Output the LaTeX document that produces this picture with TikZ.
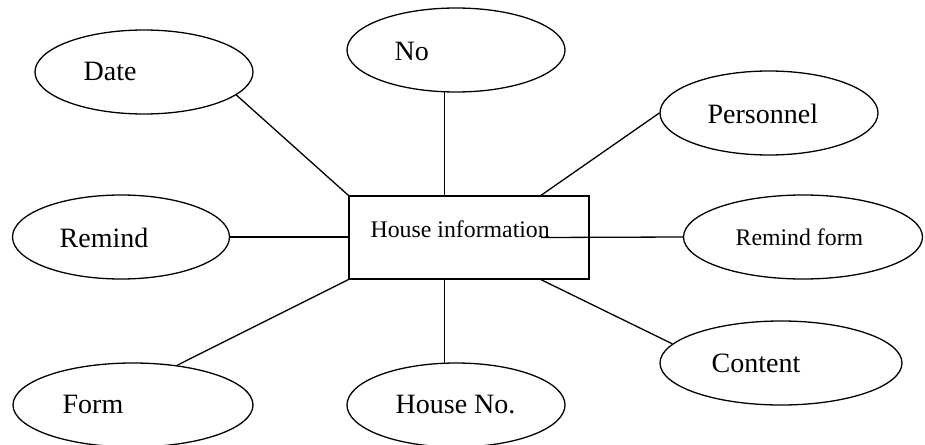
\documentclass[tikz,border=0pt]{standalone}
\usepackage{fontspec}
\setmainfont{Liberation Serif}
\usetikzlibrary{shapes.geometric}

\begin{document}
\begin{tikzpicture}[x=1pt,y=-1pt,
    line width=1.3pt,
    attr/.style={draw, ellipse, inner sep=0pt, minimum height=84},
    entity/.style={draw, rectangle, inner sep=0pt, minimum width=240, minimum height=83},
    bigtext/.style={anchor=base west, inner sep=0pt, font=\fontsize{28}{32}\selectfont},
    smalltext/.style={anchor=base west, inner sep=0pt, font=\fontsize{23.8}{28}\selectfont},
    link/.style={draw, line width=1.3pt}]
  \useasboundingbox (0,0) rectangle (925,444);

  % central entity
  \node[entity] (house) at (469,237.5) {};
  \node[smalltext] (housetxt) at (370,237) {House information};

  % attributes
  \node[attr, minimum width=218] (date)      at (144,72)  {};
  \node[attr, minimum width=218] (no)        at (456,50)  {};
  \node[attr, minimum width=218] (personnel) at (769,113) {};
  \node[attr, minimum width=217] (remind)    at (121,237) {};
  \node[attr, minimum width=239] (rform)     at (803,237) {};
  \node[attr, minimum width=240] (form)      at (133,405) {};
  \node[attr, minimum width=218] (houseno)   at (456,405) {};
  \node[attr, minimum width=242] (content)   at (781,363) {};

  % attribute labels
  \node[bigtext] (datetxt)      at (83,80)   {Date};
  \node[bigtext] (notxt)        at (394,60)  {No};
  \node[bigtext] (personneltxt) at (707,123) {Personnel};
  \node[bigtext] (remindtxt)    at (59,247)  {Remind};
  \node[smalltext] (rformtxt)   at (735,245) {Remind form};
  \node[bigtext] (formtxt)      at (62,413)  {Form};
  \node[bigtext] (housenotxt)   at (395,413) {House No.};
  \node[bigtext] (contenttxt)   at (711,372) {Content};

  % connectors
  \draw[link] (date.-14) -- (house.north west);
  \draw[link] (no.-105) -- (no.-105 |- house.north);
  \draw[link] (personnel.west) -- ([xshift=72pt]house.north);
  \draw[link] (remind.east) -- (remind.east -| house.west);
  \draw[link] ([xshift=72pt]house.center) -- (rform.west);
  \draw[link] (form.42) -- (house.south west);
  \draw[link] (house.south -| houseno.105) -- (houseno.105);
  \draw[link] ([xshift=72pt]house.south) -- (content.170);
\end{tikzpicture}
\end{document}
